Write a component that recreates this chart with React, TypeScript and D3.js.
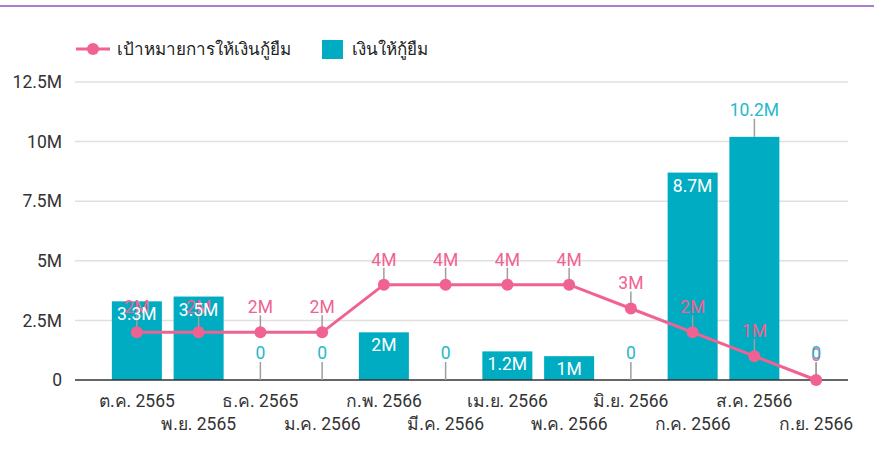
import React from "react";
import * as d3 from "d3";

const months = [
  "ต.ค. 2565", "พ.ย. 2565", "ธ.ค. 2565", "ม.ค. 2566", "ก.พ. 2566", "มี.ค. 2566",
  "เม.ย. 2566", "พ.ค. 2566", "มิ.ย. 2566", "ก.ค. 2566", "ส.ค. 2566", "ก.ย. 2566",
];
const loanValues = [3.3, 3.5, 0, 0, 2, 0, 1.2, 1, 0, 8.7, 10.2, 0]; // millions
const targetValues = [2, 2, 2, 2, 4, 4, 4, 4, 3, 2, 1, 0]; // millions
const yTicks = [0, 2.5, 5, 7.5, 10, 12.5];
const legendLine = "เป้าหมายการให้เงินกู้ยืม";
const legendBar = "เงินให้กู้ยืม";

const W = 874;
const H = 450;
const FONT = "Roboto, 'Noto Sans', 'DejaVu Sans', sans-serif";
const BAR = "#00acc1";
const BAR_LABEL = "#26b8cb";
const LINE = "#f06292";
const STEM = "#9e9e9e";
const FS = 17.5;

const fmt = (v: number) => (v === 0 ? "0" : `${v}M`);

export default function App() {
  const x = d3.scaleBand<string>().domain(months).range([106, 847]).paddingInner(0.19).paddingOuter(0.095);
  const y = d3.scaleLinear().domain([0, 12.5]).range([380, 82]);
  const cx = (m: string) => (x(m) as number) + x.bandwidth() / 2;
  const line = d3
    .line<number>()
    .x((_, i) => cx(months[i]))
    .y((d) => y(d));

  return (
    <div style={{ position: "fixed", left: 0, top: 0, width: W, height: H, background: "#fff" }}>
      <svg width={W} height={H} style={{ display: "block", fontFamily: FONT }}>
        <rect x={0} y={5} width={W} height={2} fill="#a77fcf" />
        {/* legend */}
        <g>
          <line x1={76} x2={110} y1={49} y2={49} stroke={LINE} strokeWidth={3} />
          <circle cx={93} cy={49} r={6} fill={LINE} />
          <text x={117} y={55} fontSize={17} fill="#222">{legendLine}</text>
          <rect x={322} y={40} width={21} height={19} fill={BAR} />
          <text x={352} y={55} fontSize={17} fill="#222">{legendBar}</text>
        </g>
        {/* grid */}
        {yTicks.map((t) => (
          <g key={t}>
            {t !== 0 && (
              <line x1={75} x2={848} y1={y(t)} y2={y(t)} stroke="#e0e0e0" strokeWidth={1.5} />
            )}
            <text x={62} y={y(t)} dy="0.35em" textAnchor="end" fontSize={FS} fill="#333">
              {fmt(t)}
            </text>
          </g>
        ))}
        {/* bars */}
        {loanValues.map((v, i) => (
          <rect
            key={months[i]}
            x={x(months[i])}
            y={y(v)}
            width={x.bandwidth()}
            height={y(0) - y(v)}
            fill={BAR}
          />
        ))}
        <line x1={75} x2={848} y1={y(0)} y2={y(0)} stroke="#333" strokeWidth={1.5} />
        {/* bar annotation stems */}
        {loanValues.map((v, i) => {
          const outside = v === 0 || v > 10;
          if (!outside) return null;
          const top = y(v);
          return (
            <line key={"bs" + i} x1={cx(months[i])} x2={cx(months[i])} y1={top - 18} y2={top} stroke={STEM} strokeWidth={1.5} />
          );
        })}
        {/* line */}
        <path d={line(targetValues) as string} fill="none" stroke={LINE} strokeWidth={3} />
        {targetValues.map((v, i) => (
          <line key={"lp" + i} x1={cx(months[i])} x2={cx(months[i])} y1={y(v) - 17} y2={y(v)} stroke={STEM} strokeWidth={1.5} />
        ))}
        {targetValues.map((v, i) => (
          <circle key={"c" + i} cx={cx(months[i])} cy={y(v)} r={6} fill={LINE} />
        ))}
        {targetValues.map((v, i) => (
          <text key={"lt" + i} x={cx(months[i])} y={y(v) - 19} textAnchor="middle" fontSize={FS} fill={LINE}>
            {fmt(v)}
          </text>
        ))}
        {/* bar labels */}
        {loanValues.map((v, i) => {
          const outside = v === 0 || v > 10;
          const top = y(v);
          return (
            <text
              key={"bl" + i}
              x={cx(months[i])}
              y={outside ? top - 21 : top + 19}
              textAnchor="middle"
              fontSize={FS}
              fill={outside ? BAR_LABEL : "#fff"}
            >
              {fmt(v)}
            </text>
          );
        })}
        {/* x axis labels */}
        {months.map((m, i) => (
          <text key={m} x={cx(m)} y={i % 2 === 0 ? 407 : 430} textAnchor="middle" fontSize={FS} fill="#333">
            {m}
          </text>
        ))}
      </svg>
    </div>
  );
}
